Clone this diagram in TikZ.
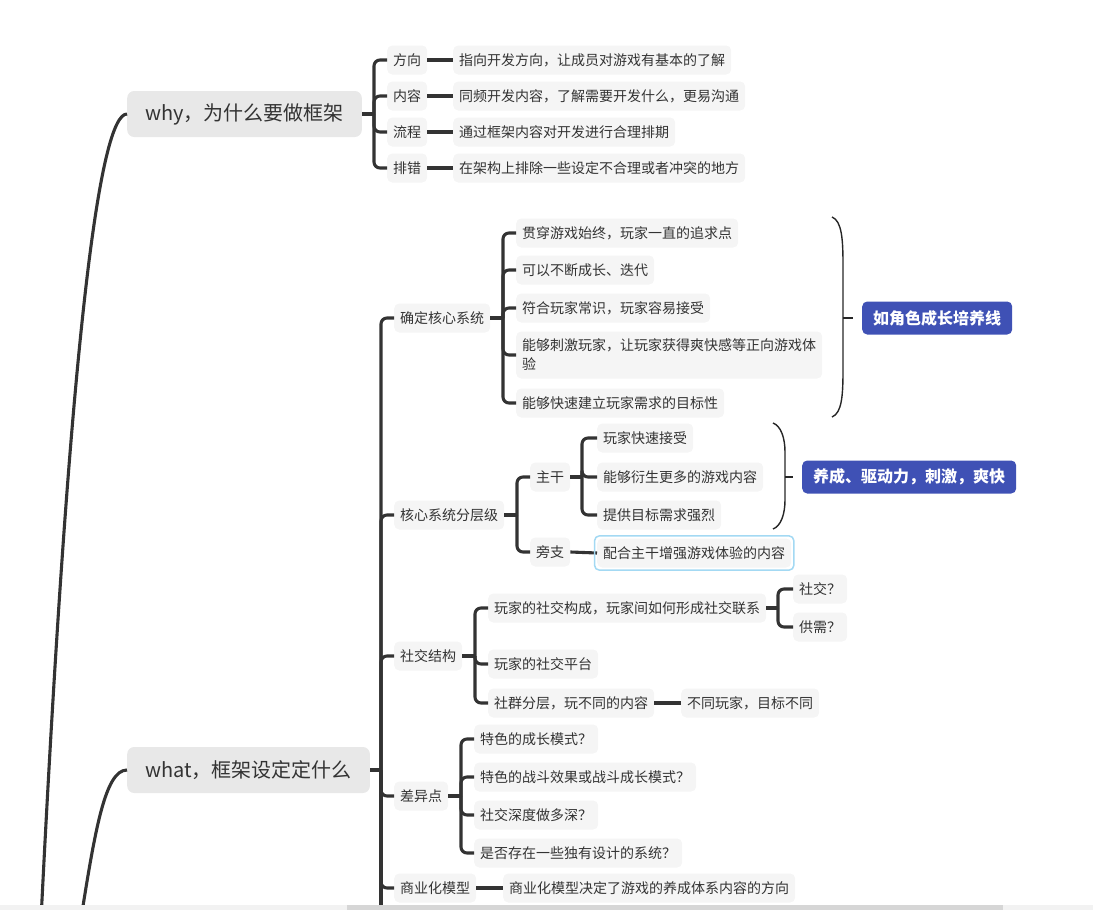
\documentclass[tikz,border=0pt]{standalone}
\usepackage{fontspec}
\setmainfont{Noto Sans CJK SC}
\usetikzlibrary{fit}

\definecolor{ink}{HTML}{333333}
\definecolor{leaf}{HTML}{F5F5F5}
\definecolor{topic}{HTML}{E8E8E8}
\definecolor{indigo}{HTML}{3F51B5}
\definecolor{selblue}{HTML}{A3D9F3}

\begin{document}
\begin{tikzpicture}[x=1pt, y=-1pt, line join=round,
  conn/.style={ink, line width=3.1pt, rounded corners=6pt},
  brace/.style={black!85, line width=1.4pt},
  leafbox/.style={fill=leaf, text=ink, rounded corners=5pt, anchor=west, minimum height=29pt, inner xsep=6pt, inner ysep=3pt, font=\fontsize{14}{19}\selectfont},
  topicbox/.style={fill=topic, text=ink, rounded corners=7pt, anchor=west, minimum height=46pt, inner xsep=18pt, font=\fontsize{20}{24}\selectfont},
  sumbox/.style={fill=indigo, text=white, rounded corners=5pt, anchor=west, minimum height=33pt, inner xsep=11pt, font=\fontsize{16}{19}\selectfont\bfseries},
  selring/.style={draw=selblue, line width=1.5pt, rounded corners=5pt, inner sep=2.5pt}]

\useasboundingbox (0,0) rectangle (1093,910);
\clip (0,0) rectangle (1093,910);

%\draw[help lines] (0,0) grid[xstep=50,ystep=50] (1093,910);

% main topics
\node[topicbox] (why) at (127,114) {why，为什么要做框架};
\node[topicbox] (what) at (127,770) {what，框架设定定什么};

\coordinate (rootA) at (40,940);
\coordinate (rootB) at (80,925);
\draw[conn] (rootA) .. controls (70,330) and (100,114) .. (why.west);
\draw[conn] (rootB) .. controls (95,830) and (105,770) .. (what.west);

% why
\coordinate (whyJ) at (374,114);
\draw[conn] (why.east) -- (whyJ);
\foreach \t/\d [count=\i] in {方向/指向开发方向，让成员对游戏有基本的了解,
  内容/同频开发内容，了解需要开发什么，更易沟通,
  流程/通过框架内容对开发进行合理排期,
  排错/在架构上排除一些设定不合理或者冲突的地方}
{
  \node[leafbox] (why\i) at (387,24+36*\i) {\t};
  \node[leafbox] (whyd\i) at (453,24+36*\i) {\d};
  \draw[conn] (whyJ) |- (why\i.west);
  \draw[conn] (why\i.east) -- (whyd\i.west);
}

% what
\coordinate (whatJ) at (381,770);
\coordinate (whatEnd) at (381,915);
\draw[conn] (what.east) -- (whatJ);
\draw[conn] (whatJ) -- (whatEnd);

\node[leafbox] (core) at (394,318) {确定核心系统};
\node[leafbox] (layer) at (394,515) {核心系统分层级};
\node[leafbox] (social) at (394,656) {社交结构};
\node[leafbox] (diff) at (394,796) {差异点};
\node[leafbox] (biz) at (394,888) {商业化模型};
\foreach \n in {core,layer,social,diff,biz}
  \draw[conn] (whatJ) |- (\n.west);

% core system
\coordinate (coreJ) at (503,318);
\draw[conn] (core.east) -- (coreJ);
\node[leafbox] (core1) at (516,233) {贯穿游戏始终，玩家一直的追求点};
\node[leafbox] (core2) at (516,270) {可以不断成长、迭代};
\node[leafbox] (core3) at (516,308) {符合玩家常识，玩家容易接受};
\node[leafbox, align=left, minimum height=47pt] (core4) at (516,355) {能够刺激玩家，让玩家获得爽快感等正向游戏体\\验};
\node[leafbox] (core5) at (516,403) {能够快速建立玩家需求的目标性};
\foreach \i in {1,...,5}
  \draw[conn] (coreJ) |- (core\i.west);

\draw[brace] (832,217) .. controls (842,221) and (843,240) .. (843,265) -- (843,370) .. controls (843,395) and (842,413) .. (832,417);
\coordinate (braceA) at (843,318);
\node[sumbox] (sumA) at (862,318) {如角色成长培养线};
\draw[brace, shorten >=9pt] (braceA) -- (sumA.west);

% layers
\coordinate (layerJ) at (517,515);
\draw[conn] (layer.east) -- (layerJ);
\node[leafbox] (trunk) at (530,477) {主干};
\node[leafbox] (side) at (530,552) {旁支};
\draw[conn] (layerJ) |- (trunk.west);
\draw[conn] (layerJ) |- (side.west);

\coordinate (trunkJ) at (582,477);
\draw[conn] (trunk.east) -- (trunkJ);
\node[leafbox] (trunk1) at (597,438) {玩家快速接受};
\node[leafbox] (trunk2) at (597,477) {能够衍生更多的游戏内容};
\node[leafbox] (trunk3) at (597,515) {提供目标需求强烈};
\foreach \i in {1,2,3}
  \draw[conn] (trunkJ) |- (trunk\i.west);

\node[leafbox] (sided) at (597,553) {配合主干增强游戏体验的内容};
\draw[conn] (side.east) -- (sided.west);
\node[selring, fit=(sided)] (sidering) {};

\draw[brace] (773,423) .. controls (781,426) and (785,438) .. (785,452) -- (785,500) .. controls (785,514) and (781,526) .. (773,529);
\coordinate (braceB) at (785,477);
\node[sumbox] (sumB) at (802,477) {养成、驱动力，刺激，爽快};
\draw[brace, shorten >=9pt] (braceB) -- (sumB.west);

% social
\coordinate (socialJ) at (475,656);
\draw[conn] (social.east) -- (socialJ);
\node[leafbox] (soc1) at (488,608) {玩家的社交构成，玩家间如何形成社交联系};
\node[leafbox] (soc2) at (488,664) {玩家的社交平台};
\node[leafbox] (soc3) at (488,703) {社群分层，玩不同的内容};
\foreach \i in {1,2,3}
  \draw[conn] (socialJ) |- (soc\i.west);

\coordinate (soc1J) at (778,608);
\draw[conn] (soc1.east) -- (soc1J);
\node[leafbox] (soc1a) at (793,589) {社交？};
\node[leafbox] (soc1b) at (793,627) {供需？};
\draw[conn] (soc1J) |- (soc1a.west);
\draw[conn] (soc1J) |- (soc1b.west);

\node[leafbox] (soc3a) at (681,703) {不同玩家，目标不同};
\draw[conn] (soc3.east) -- (soc3a.west);

% differences
\coordinate (diffJ) at (461,796);
\draw[conn] (diff.east) -- (diffJ);
\foreach \t [count=\i] in {特色的成长模式？, 特色的战斗效果或战斗成长模式？, 社交深度做多深？, 是否存在一些独有设计的系统？}
{
  \node[leafbox] (diff\i) at (474,701+38*\i) {\t};
  \draw[conn] (diffJ) |- (diff\i.west);
}

% business
\node[leafbox] (biza) at (503,888) {商业化模型决定了游戏的养成体系内容的方向};
\draw[conn] (biz.east) -- (biza.west);

% scroll bar
\fill[black!5] (0,905) rectangle (1093,910);
\fill[black!16] (347,905) rectangle (1003,910);

\end{tikzpicture}
\end{document}
